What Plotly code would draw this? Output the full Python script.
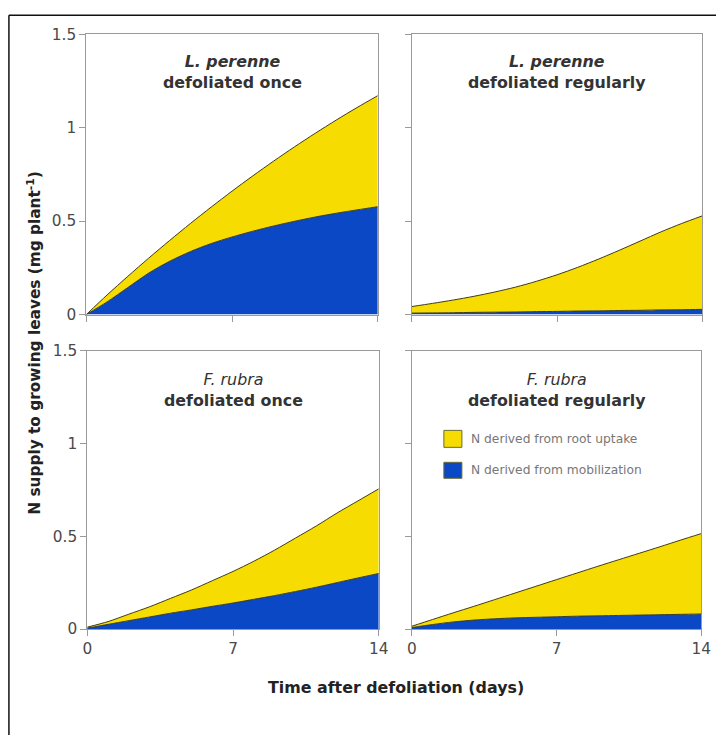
import plotly.graph_objects as go

# Days after defoliation
days = list(range(0, 15))

# N supply to growing leaves (mg plant-1), split into the two sources
lp_once_mob = [0.0, 0.068, 0.145, 0.222, 0.285, 0.337, 0.38, 0.415, 0.446, 0.474, 0.499, 0.522, 0.542, 0.56, 0.577]
lp_once_upt = [0.0, 0.037, 0.06, 0.08, 0.111, 0.15, 0.195, 0.245, 0.296, 0.347, 0.398, 0.448, 0.498, 0.547, 0.594]

lp_reg_mob = [0.008, 0.009, 0.010, 0.012, 0.013, 0.014, 0.016, 0.017, 0.019, 0.020, 0.022, 0.023, 0.025, 0.026, 0.028]
lp_reg_upt = [0.035, 0.051, 0.068, 0.086, 0.108, 0.133, 0.162, 0.196, 0.234, 0.277, 0.322, 0.37, 0.417, 0.461, 0.5]

fr_once_mob = [0.005, 0.025, 0.045, 0.065, 0.085, 0.103, 0.122, 0.14, 0.16, 0.18, 0.202, 0.225, 0.25, 0.275, 0.299]
fr_once_upt = [0.005, 0.015, 0.035, 0.055, 0.08, 0.107, 0.138, 0.17, 0.205, 0.245, 0.288, 0.33, 0.375, 0.415, 0.456]

fr_reg_mob = [0.008, 0.024, 0.038, 0.048, 0.055, 0.06, 0.063, 0.066, 0.069, 0.071, 0.073, 0.075, 0.077, 0.079, 0.081]
fr_reg_upt = [0.007, 0.027, 0.049, 0.074, 0.103, 0.134, 0.167, 0.200, 0.233, 0.267, 0.300, 0.333, 0.366, 0.400, 0.433]

panel_titles = [
    "<i><b>L. perenne</b></i><br><b>defoliated once</b>",
    "<i><b>L. perenne</b></i><br><b>defoliated regularly</b>",
    "<i>F. rubra</i><br><b>defoliated once</b>",
    "<i>F. rubra</i><br><b>defoliated regularly</b>",
]
legend_labels = ["N derived from root uptake", "N derived from mobilization"]
x_ticks = [0, 7, 14]
y_ticks = [0, 0.5, 1, 1.5]
y_tick_text = ["0", "0.5", "1", "1.5"]

YELLOW = "#F6DC00"
BLUE = "#0B48C6"
EDGE = "#3b3b22"
AXIS = "#9a9a9a"
TICK_TEXT = "#4a4a4a"
FONT = "DejaVu Sans"

# Page layout: the body keeps a small default margin and the page is
# shown at a slight zoom, so positions below are given in screen pixels
# and converted to figure coordinates.
ZOOM = 700 / 716
OFF_X, OFF_Y = 5, 8
W, H = 726, 744


def px(x):
    return (x / ZOOM - OFF_X) / W


def py(y):
    return 1 - (y / ZOOM - OFF_Y) / H


def fs(size):
    return size / ZOOM


# (mobilization, root uptake, x axis, y axis, x extent, y extent, title offset)
panels = [
    (lp_once_mob, lp_once_upt, "x", "y", [86, 377], [33, 314], 38),
    (lp_reg_mob, lp_reg_upt, "x2", "y2", [411, 701], [33, 314], 38),
    (fr_once_mob, fr_once_upt, "x3", "y3", [87, 378], [350, 629], 40),
    (fr_reg_mob, fr_reg_upt, "x4", "y4", [411, 700], [350, 629], 40),
]

fig = go.Figure()
layout = {}
annotations = []

for i, (mob, upt, xa, ya, xd, yd, tdy) in enumerate(panels):
    grp = f"g{i}"
    fig.add_trace(go.Scatter(
        x=days, y=mob, xaxis=xa, yaxis=ya, stackgroup=grp, mode="lines",
        line=dict(color=EDGE, width=1, shape="spline", smoothing=0.8),
        fillcolor=BLUE, showlegend=False, hoverinfo="skip"))
    fig.add_trace(go.Scatter(
        x=days, y=upt, xaxis=xa, yaxis=ya, stackgroup=grp, mode="lines",
        line=dict(color=EDGE, width=1, shape="spline", smoothing=0.8),
        fillcolor=YELLOW, showlegend=False, hoverinfo="skip"))

    n = "" if i == 0 else str(i + 1)
    bottom = i >= 2
    left = i % 2 == 0
    layout[f"xaxis{n}"] = dict(
        domain=[px(xd[0]), px(xd[1])], range=[0, 14], anchor=ya,
        tickvals=x_ticks, showticklabels=bottom, ticks="outside", ticklen=6,
        tickcolor=AXIS, showline=True, linecolor=AXIS, linewidth=1, mirror=True,
        showgrid=False, zeroline=False,
        tickfont=dict(family=FONT, size=fs(15), color=TICK_TEXT))
    layout[f"yaxis{n}"] = dict(
        domain=[py(yd[1]), py(yd[0])], range=[0, 1.5], anchor=xa,
        tickvals=y_ticks, ticktext=y_tick_text, showticklabels=left,
        ticks="outside", ticklen=6, tickcolor=AXIS, showline=True,
        linecolor=AXIS, linewidth=1, mirror=True, showgrid=False,
        zeroline=False, tickfont=dict(family=FONT, size=fs(15), color=TICK_TEXT))

    annotations.append(dict(
        text=panel_titles[i], xref="paper", yref="paper",
        x=px((xd[0] + xd[1]) / 2), y=py(yd[0] + tdy), xanchor="center",
        yanchor="middle", showarrow=False, align="center",
        font=dict(family=FONT, size=fs(15.5), color="#333333")))

# Legend drawn inside the lower-right panel
legend_swatches = [(YELLOW, 430, 447), (BLUE, 462, 478)]
shapes = []
for (color, y0, y1), label in zip(legend_swatches, legend_labels):
    shapes.append(dict(type="rect", xref="paper", yref="paper",
                       x0=px(443), x1=px(461), y0=py(y1), y1=py(y0),
                       fillcolor=color, line=dict(color="#6b6b30", width=1)))
    annotations.append(dict(
        text=label, xref="paper", yref="paper", x=px(468),
        y=py((y0 + y1) / 2), xanchor="left", yanchor="middle",
        showarrow=False, font=dict(family=FONT, size=fs(12), color="#777777")))

# Axis titles
annotations.append(dict(
    text="<b>N supply to growing leaves (mg plant<sup>-1</sup>)</b>",
    xref="paper", yref="paper", x=px(33), y=py(342), textangle=-90,
    xanchor="center", yanchor="middle", showarrow=False,
    font=dict(family=FONT, size=fs(15), color="#222222")))
annotations.append(dict(
    text="<b>Time after defoliation (days)</b>", xref="paper", yref="paper",
    x=px(395), y=py(688), xanchor="center", yanchor="middle",
    showarrow=False, font=dict(family=FONT, size=fs(15.5), color="#222222")))

# Frame along the top and left edges
shapes.append(dict(type="line", xref="paper", yref="paper",
                   x0=px(8.8), x1=1, y0=py(14), y1=py(14),
                   line=dict(color="#111111", width=1.5)))
shapes.append(dict(type="line", xref="paper", yref="paper",
                   x0=px(8.8), x1=px(8.8), y0=py(14), y1=0,
                   line=dict(color="#111111", width=1.5)))

fig.update_layout(
    width=W, height=H, margin=dict(l=0, r=0, t=0, b=0),
    paper_bgcolor="white", plot_bgcolor="white",
    annotations=annotations, shapes=shapes, showlegend=False,
    **layout)

fig.write_html("out.html")
